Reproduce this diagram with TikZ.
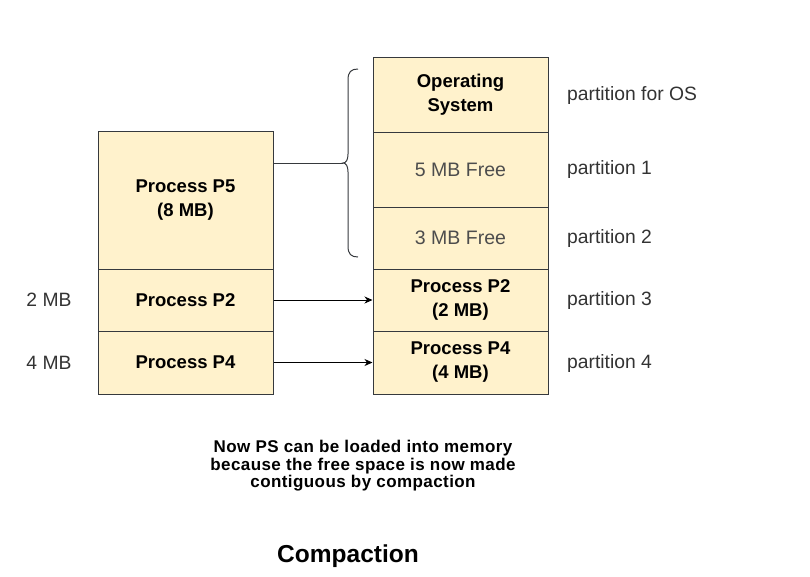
\documentclass[tikz,border=0pt]{standalone}
\usepackage{fontspec}
\setmainfont{Liberation Sans}
\usetikzlibrary{arrows.meta}
\definecolor{boxfill}{HTML}{FFF2CC}
\definecolor{boxline}{HTML}{36393D}
\definecolor{lbl}{HTML}{333333}
\definecolor{freetxt}{HTML}{4D4D4D}
\tikzset{
  mem/.style={draw=boxline, fill=boxfill, line width=1pt, rectangle, minimum width=175pt, inner sep=0pt, align=center, font=\fontsize{18.5}{24}\selectfont\bfseries},
  freebox/.style={mem, font=\fontsize{19.5}{24}\selectfont, text=freetxt},
  sidelbl/.style={font=\fontsize{19.3}{22}\selectfont, text=lbl, inner sep=0pt},
  conn/.style={draw=black, line width=1pt},
  arr/.style={conn, -{Stealth[length=8pt,width=7pt,inset=2.5pt]}}
}
\begin{document}
\begin{tikzpicture}[x=1pt,y=-1pt]
\useasboundingbox (0,0) rectangle (810,576);
% left column
\node[mem, minimum height=138pt] (p5) at (185.5,200) {Process P5\\(8 MB)};
\node[mem, minimum height=62pt] (p2l) at (185.5,300) {Process P2};
\node[mem, minimum height=63pt] (p4l) at (185.5,362.5) {Process P4};
% right column
\node[mem, minimum height=75pt] (os) at (460.5,94.5) {Operating\\System};
\node[freebox, minimum height=75pt] (f5) at (460.5,169.5) {5 MB Free};
\node[freebox, minimum height=62pt] (f3) at (460.5,238) {3 MB Free};
\node[mem, minimum height=62pt] (p2r) at (460.5,300) {Process P2\\(2 MB)};
\node[mem, minimum height=63pt] (p4r) at (460.5,362.5) {Process P4\\(4 MB)};
% side labels
\node[sidelbl] (l2) at (49,300) {2 MB};
\node[sidelbl] (l4) at (49,363) {4 MB};
\node[sidelbl, anchor=west] (pos) at (567,96) {partition for OS};
\node[sidelbl, anchor=west] (pa1) at (567,170) {partition 1};
\node[sidelbl, anchor=west] (pa2) at (567,239) {partition 2};
\node[sidelbl, anchor=west] (pa3) at (567,301) {partition 3};
\node[sidelbl, anchor=west] (pa4) at (567,364) {partition 4};
% brace
\coordinate (tip) at (343,163);
\draw[draw=boxline, line width=1pt] (358,69) .. controls (351,69) and (348,72) .. (348,80) -- (348,154) .. controls (348,160) and (346,163) .. (tip) .. controls (346,163) and (348,166) .. (348,172) -- (348,246) .. controls (348,254) and (351,257) .. (358,257);
\draw[conn, draw=boxline] (p5.east |- tip) -- (tip);
% arrows
\draw[arr] (p2l.east) -- (p2r.west);
\draw[arr] (p4l.east) -- (p4r.west);
% notes
\node[align=center, font=\fontsize{17}{17.5}\selectfont\bfseries\addfontfeatures{LetterSpace=2.5}, inner sep=0pt] (note) at (363,466) {Now PS can be loaded into memory\\because the free space is now made\\contiguous by compaction};
\node[font=\fontsize{24.5}{28}\selectfont\bfseries, inner sep=0pt] (title) at (348,556) {Compaction};
\end{tikzpicture}
\end{document}
